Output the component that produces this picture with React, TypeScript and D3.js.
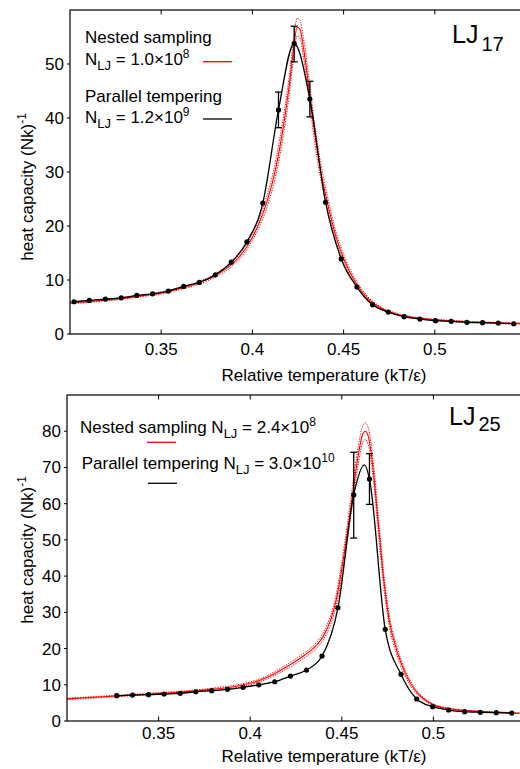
import React from "react";
import * as d3 from "d3";

// ---------- LJ17 (top panel) ----------
const pt17T = [0.3022, 0.3106, 0.3194, 0.3281, 0.3366, 0.3453, 0.3539, 0.3623, 0.3709, 0.3797, 0.3884, 0.3970, 0.4057, 0.4143, 0.4229, 0.4315, 0.4401, 0.4487, 0.4573, 0.4659, 0.4745, 0.4832, 0.4918, 0.5004, 0.5090, 0.5176, 0.5262, 0.5348, 0.5433];
const pt17C = [5.97, 6.22, 6.46, 6.70, 7.15, 7.44, 7.94, 8.81, 9.55, 10.95, 13.3, 17.05, 24.25, 41.5, 53.8, 43.5, 24.4, 13.9, 8.7, 5.4, 4.06, 3.2, 2.77, 2.46, 2.35, 2.16, 2.09, 2.03, 1.9];
const err17T = [0.4143, 0.4229, 0.4315];
const err17Lo = [38.2, 50.4, 40.2];
const err17Hi = [44.8, 57.0, 46.8];
const ns17T = [0.300, 0.310, 0.320, 0.330, 0.340, 0.350, 0.360, 0.370, 0.380, 0.390, 0.397, 0.403, 0.408, 0.413, 0.417, 0.420, 0.4225, 0.4245, 0.426, 0.428, 0.431, 0.434, 0.437, 0.441, 0.446, 0.451, 0.457, 0.463, 0.470, 0.480, 0.495, 0.510, 0.530, 0.550];
const ns17C = [5.75, 6.0, 6.3, 6.65, 7.1, 7.6, 8.4, 9.4, 10.9, 13.3, 16.2, 20.0, 24.5, 31.0, 38.5, 45.5, 52.5, 56.8, 56.5, 53.0, 45.5, 37.5, 31.0, 24.5, 17.8, 13.2, 9.3, 6.7, 4.9, 3.6, 2.8, 2.4, 2.1, 1.9];
const ns17Hi = [5.9, 6.15, 6.45, 6.8, 7.25, 7.8, 8.6, 9.65, 11.2, 13.7, 16.8, 20.8, 25.6, 32.5, 40.2, 47.2, 54.2, 58.5, 58.2, 54.8, 47.3, 39.2, 32.5, 25.7, 18.7, 13.9, 9.8, 7.0, 5.1, 3.75, 2.9, 2.5, 2.2, 2.0];
const ns17Lo = [5.6, 5.85, 6.15, 6.5, 6.95, 7.4, 8.2, 9.15, 10.6, 12.9, 15.7, 19.3, 23.5, 29.6, 36.9, 43.8, 50.9, 55.2, 54.9, 51.3, 43.8, 35.9, 29.5, 23.4, 17.0, 12.6, 8.9, 6.4, 4.7, 3.45, 2.7, 2.3, 2.0, 1.8];

// ---------- LJ25 (bottom panel) ----------
const pt25T = [0.3271, 0.3358, 0.3445, 0.3530, 0.3618, 0.3703, 0.3790, 0.3876, 0.3961, 0.4047, 0.4134, 0.4220, 0.4307, 0.4392, 0.4479, 0.4565, 0.4651, 0.4737, 0.4823, 0.4909, 0.4996, 0.5083, 0.5170, 0.5256, 0.5343, 0.5428];
const pt25C = [6.98, 7.17, 7.26, 7.45, 7.64, 8.08, 8.36, 8.74, 9.3, 10.0, 10.84, 12.41, 14.07, 17.93, 31.26, 62.4, 66.8, 25.3, 12.9, 6.07, 3.95, 3.03, 2.57, 2.4, 2.29, 2.2];
const pt25PeakT = [0.4624];
const pt25PeakC = [70.7];
const err25T = [0.4565, 0.4651];
const err25Lo = [50.5, 59.8];
const err25Hi = [74.2, 73.8];
const ns25T = [0.300, 0.320, 0.340, 0.360, 0.380, 0.390, 0.400, 0.405, 0.413, 0.421, 0.430, 0.436, 0.440, 0.444, 0.447, 0.450, 0.453, 0.456, 0.459, 0.4615, 0.4628, 0.4645, 0.467, 0.470, 0.473, 0.476, 0.480, 0.485, 0.490, 0.495, 0.500, 0.510, 0.520, 0.535, 0.550];
const ns25C = [6.1, 6.7, 7.3, 7.9, 8.8, 9.4, 10.4, 11.2, 13.0, 15.3, 18.3, 20.8, 23.5, 28.0, 33.5, 42.0, 52.0, 63.0, 73.5, 79.3, 80.0, 78.5, 70.0, 54.0, 38.5, 27.5, 19.5, 12.8, 8.5, 6.0, 4.5, 3.3, 2.8, 2.4, 2.1];
const ns25Hi = [6.3, 6.9, 7.5, 8.15, 9.1, 9.75, 10.8, 11.6, 13.5, 15.9, 19.0, 21.6, 24.5, 29.2, 35.0, 43.9, 54.2, 65.4, 75.9, 81.6, 82.3, 80.8, 72.3, 56.2, 40.4, 29.0, 20.6, 13.6, 9.0, 6.3, 4.7, 3.45, 2.9, 2.5, 2.2];
const ns25Lo = [5.9, 6.5, 7.1, 7.65, 8.5, 9.05, 10.0, 10.8, 12.5, 14.7, 17.6, 20.0, 22.5, 26.8, 32.0, 40.1, 49.8, 60.6, 71.1, 77.0, 77.7, 76.2, 67.7, 51.8, 36.6, 26.0, 18.4, 12.0, 8.0, 5.7, 4.3, 3.15, 2.7, 2.3, 2.0];

const xTicks = [0.35, 0.4, 0.45, 0.5];
const xTickLabels = ["0.35", "0.4", "0.45", "0.5"];
const yTicks17 = [0, 10, 20, 30, 40, 50];
const yTicks25 = [0, 10, 20, 30, 40, 50, 60, 70, 80];

const FONT = "'Liberation Sans', Arial, Helvetica, sans-serif";
const RED = "#ff0000";

type PanelProps = {
  id: string;
  left: number; right: number; top: number; bottom: number;
  yMax: number; yTicks: number[];
  ptT: number[]; ptC: number[];
  lineT: number[]; lineC: number[];
  errT: number[]; errLo: number[]; errHi: number[];
  nsT: number[]; nsC: number[]; nsHi: number[]; nsLo: number[];
  tickLabelY: number; titleY: number; yLabelY: number;
};

function Panel(p: PanelProps) {
  const x = d3.scaleLinear().domain([0.3, 0.55]).range([p.left, p.right]);
  const y = d3.scaleLinear().domain([0, p.yMax]).range([p.bottom, p.top]);
  const mk = (ts: number[], cs: number[], curve: any) =>
    d3.line<number>().x((_, i) => x(ts[i])).y((c) => y(c)).curve(curve)(cs) || "";
  const nsPath = mk(p.nsT, p.nsC, d3.curveMonotoneX);
  const nsHiPath = mk(p.nsT, p.nsHi, d3.curveMonotoneX);
  const nsLoPath = mk(p.nsT, p.nsLo, d3.curveMonotoneX);
  const ptPath = mk(p.lineT, p.lineC, d3.curveMonotoneX);
  const clip = `clip-${p.id}`;
  return (
    <g>
      <defs>
        <clipPath id={clip}>
          <rect x={p.left} y={p.top} width={p.right - p.left} height={p.bottom - p.top} />
        </clipPath>
      </defs>
      <g clipPath={`url(#${clip})`}>
        <path d={nsHiPath} fill="none" stroke={RED} strokeWidth={1} strokeDasharray="1.3,1.3" />
        <path d={nsLoPath} fill="none" stroke={RED} strokeWidth={1} strokeDasharray="1.3,1.3" />
        <path d={nsPath} fill="none" stroke={RED} strokeWidth={1.1} />
        <path d={ptPath} fill="none" stroke="#000" strokeWidth={1.3} />
        {p.errT.map((t, i) => (
          <g key={i} stroke="#000" strokeWidth={1.3}>
            <line x1={x(t)} x2={x(t)} y1={y(p.errLo[i])} y2={y(p.errHi[i])} />
            <line x1={x(t) - 3.5} x2={x(t) + 3.5} y1={y(p.errLo[i])} y2={y(p.errLo[i])} />
            <line x1={x(t) - 3.5} x2={x(t) + 3.5} y1={y(p.errHi[i])} y2={y(p.errHi[i])} />
          </g>
        ))}
        {p.ptT.map((t, i) => (
          <circle key={i} cx={x(t)} cy={y(p.ptC[i])} r={2.6} fill="#000" />
        ))}
      </g>
      {/* frame */}
      <rect x={p.left} y={p.top} width={p.right - p.left} height={p.bottom - p.top} fill="none" stroke="#000" strokeWidth={1.2} />
      {xTicks.map((t, i) => (
        <g key={i}>
          <line x1={x(t)} x2={x(t)} y1={p.bottom} y2={p.bottom - 4.5} stroke="#000" strokeWidth={1} />
          <line x1={x(t)} x2={x(t)} y1={p.top} y2={p.top + 4.5} stroke="#000" strokeWidth={1} />
          <text x={x(t)} y={p.tickLabelY} textAnchor="middle" fontSize={17} fontFamily={FONT}>{xTickLabels[i]}</text>
        </g>
      ))}
      {p.yTicks.map((v, i) => (
        <g key={i}>
          <line x1={p.left - 3} x2={p.left} y1={y(v)} y2={y(v)} stroke="#000" strokeWidth={1} />
          <text x={p.left - 6} y={y(v) + 6} textAnchor="end" fontSize={17} fontFamily={FONT}>{v}</text>
        </g>
      ))}
      <text x={324} y={p.titleY} textAnchor="middle" fontSize={17} fontFamily={FONT}>Relative temperature (kT/ε)</text>
      <text transform={`translate(33,${p.yLabelY}) rotate(-90)`} textAnchor="middle" fontSize={17} fontFamily={FONT}>
        heat capacity (Nk)<tspan dy={-7} fontSize={12}>-1</tspan>
      </text>
    </g>
  );
}

export default function App() {
  const line25T: number[] = [];
  const line25C: number[] = [];
  const merged = pt25T.map((t, i) => [t, pt25C[i]]).concat(pt25PeakT.map((t, i) => [t, pt25PeakC[i]]));
  merged.sort((a, b) => a[0] - b[0]);
  merged.forEach((d) => { line25T.push(d[0]); line25C.push(d[1]); });

  return (
    <svg width={520} height={769} style={{ position: "absolute", left: 0, top: 0, background: "#fff" }} fontFamily={FONT}>
      <rect x={0} y={0} width={520} height={769} fill="#fff" />
      <Panel id="lj17" left={70} right={526} top={10} bottom={334} yMax={60} yTicks={yTicks17}
        ptT={pt17T} ptC={pt17C} lineT={pt17T} lineC={pt17C}
        errT={err17T} errLo={err17Lo} errHi={err17Hi}
        nsT={ns17T} nsC={ns17C} nsHi={ns17Hi} nsLo={ns17Lo}
        tickLabelY={355} titleY={381} yLabelY={187} />
      <Panel id="lj25" left={67} right={525} top={395} bottom={721} yMax={90} yTicks={yTicks25}
        ptT={pt25T} ptC={pt25C} lineT={line25T} lineC={line25C}
        errT={err25T} errLo={err25Lo} errHi={err25Hi}
        nsT={ns25T} nsC={ns25C} nsHi={ns25Hi} nsLo={ns25Lo}
        tickLabelY={739} titleY={762} yLabelY={550} />

      {/* top legend */}
      <g fontSize={17} fontFamily={FONT}>
        <text x={85} y={43}>Nested sampling</text>
        <text x={85} y={65}>N<tspan dy={5} fontSize={13}>LJ</tspan><tspan dy={-5}> = 1.0×10</tspan><tspan dy={-7} fontSize={12}>8</tspan></text>
        <line x1={203} x2={232} y1={61.7} y2={61.7} stroke={RED} strokeWidth={1.3} />
        <text x={85} y={101.7}>Parallel tempering</text>
        <text x={85} y={122.7}>N<tspan dy={5} fontSize={13}>LJ</tspan><tspan dy={-5}> = 1.2×10</tspan><tspan dy={-7} fontSize={12}>9</tspan></text>
        <line x1={203} x2={232} y1={119} y2={119} stroke="#000" strokeWidth={1.3} />
        <text x={452} y={43} fontSize={25}>LJ<tspan dx={3} dy={7.7} fontSize={20}>17</tspan></text>
      </g>
      {/* bottom legend */}
      <g fontSize={17} fontFamily={FONT}>
        <text x={80} y={433}>Nested sampling N<tspan dy={5} fontSize={13}>LJ</tspan><tspan dy={-5}> = 2.4×10</tspan><tspan dy={-7} fontSize={12}>8</tspan></text>
        <line x1={147} x2={176} y1={442.3} y2={442.3} stroke={RED} strokeWidth={1.3} />
        <text x={81.7} y={469}>Parallel tempering N<tspan dy={5} fontSize={13}>LJ</tspan><tspan dy={-5}> = 3.0×10</tspan><tspan dy={-7} fontSize={12}>10</tspan></text>
        <line x1={148} x2={177} y1={483.3} y2={483.3} stroke="#000" strokeWidth={1.3} />
        <text x={449} y={425} fontSize={25}>LJ<tspan dx={3} dy={6} fontSize={20}>25</tspan></text>
      </g>
    </svg>
  );
}
